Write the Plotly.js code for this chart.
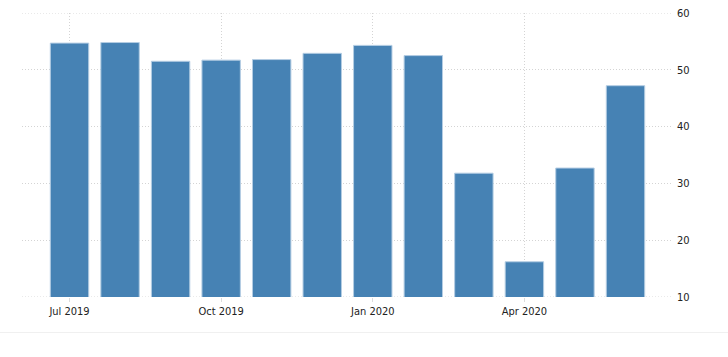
<!DOCTYPE html>
<html>
<head>
<meta charset="utf-8">
<script src="https://cdn.plot.ly/plotly-3.0.1.min.js"></script>
<style>html,body{margin:0;padding:0;background:#fff;}#chart{width:728px;height:357px;}</style>
</head>
<body>
<div id="chart"></div>
<script>
const months = ['Jul 2019','Aug 2019','Sep 2019','Oct 2019','Nov 2019','Dec 2019','Jan 2020','Feb 2020','Mar 2020','Apr 2020','May 2020','Jun 2020'];
const values = [54.7, 54.8, 51.5, 51.7, 51.8, 52.9, 54.3, 52.5, 31.8, 16.2, 32.7, 47.2];
const xTicks = ['Jul 2019','Oct 2019','Jan 2020','Apr 2020'];
const yTicks = [10, 20, 30, 40, 50, 60];

const gridColor = '#d4d4d4';
const gridDash = '1px,2px';

const trace = {
  type: 'bar',
  x: months,
  y: values,
  marker: {color: '#4682b4', line: {color: '#b4cde3', width: 1}},
  hoverinfo: 'x+y'
};

const edgeGrid = [yTicks[0], yTicks[yTicks.length - 1]].map(v => ({
  type: 'line', xref: 'paper', yref: 'y', layer: 'below',
  x0: 0, x1: 1, y0: v, y1: v,
  line: {color: gridColor, width: 1, dash: gridDash}
}));

const layout = {
  width: 728, height: 357,
  margin: {l: 22, r: 56, t: 13, b: 60, pad: 0},
  paper_bgcolor: '#fff', plot_bgcolor: '#fff',
  bargap: 0.24,
  showlegend: false,
  font: {family: '"DejaVu Sans Condensed", "DejaVu Sans", sans-serif', size: 11, color: '#222'},
  xaxis: {
    type: 'category',
    range: [-0.94, 11.92],
    tickmode: 'array', tickvals: xTicks, ticktext: xTicks,
    showgrid: true, gridcolor: gridColor, griddash: gridDash, gridwidth: 1,
    ticks: 'outside', ticklen: 4, tickcolor: '#dcdcdc',
    showline: false, zeroline: false,
    tickfont: {size: 11, color: '#222'}
  },
  yaxis: {
    side: 'right',
    range: [10, 60],
    tickmode: 'array', tickvals: yTicks,
    showgrid: true, gridcolor: gridColor, griddash: gridDash, gridwidth: 1,
    zeroline: false, showline: false,
    ticks: '', ticklabelstandoff: 4,
    tickfont: {size: 11, color: '#222'}
  },
  shapes: edgeGrid.concat([{
    type: 'line', xref: 'paper', yref: 'paper',
    x0: -0.04, x1: 1.1, y0: -0.125, y1: -0.125,
    line: {color: '#f0f0f0', width: 1}
  }])
};

Plotly.newPlot('chart', [trace], layout, {displayModeBar: false, staticPlot: true});
</script>
</body>
</html>
